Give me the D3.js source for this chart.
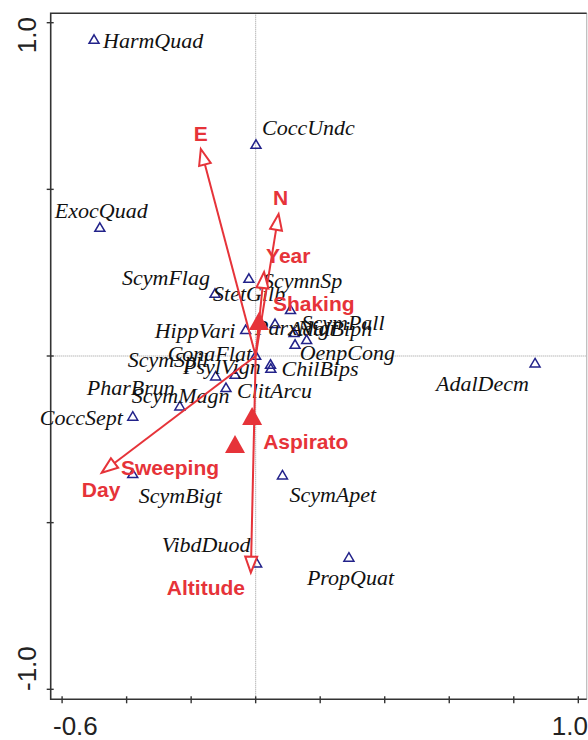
<!DOCTYPE html>
<html>
<head>
<meta charset="utf-8">
<script src="https://cdn.jsdelivr.net/npm/d3@7"></script>
<style>
   body { margin: 0; background: #fff; }
   .sp { font-family: "Liberation Serif", "Times New Roman", serif; font-style: italic; font-size: 22px; fill: #111; }
   .env { font-family: "Liberation Sans", Arial, sans-serif; font-weight: bold; font-size: 21px; fill: #e63339; }
   .tick { font-family: "Liberation Sans", Arial, sans-serif; font-size: 26px; fill: #222; }
</style>
</head>
<body>
<div id="viz"></div>
<script>

var width = 588;
var height = 740;

// Data //

var species = ["HarmQuad", "CoccUndc", "ExocQuad", "ScymFlag", "StetGilb", "ScymnSp", "ScymPall", "HippVari",
   "ParxNigr", "AdalBiph", "OenpCong", "ConaFlat", "ScymSpil", "PsylVign", "ChilBips", "PharBrun",
   "ScymMagn", "ClitArcu", "CoccSept", "ScymBigt", "ScymApet", "VibdDuod", "PropQuat", "AdalDecm"];
var speciesX = [-0.501, 0.001, -0.483, -0.126, 0.122, -0.021, 0.108, -0.031,
   0.060, 0.119, 0.158, 0.000, -0.124, -0.064, 0.046, 0.047,
   -0.235, -0.092, -0.381, -0.381, 0.083, 0.003, 0.289, 0.866];
var speciesY = [0.951, 0.636, 0.387, 0.189, 0.036, 0.234, 0.140, 0.080,
   0.098, 0.071, 0.050, 0.003, -0.059, -0.054, -0.024, -0.036,
   -0.149, -0.094, -0.180, -0.352, -0.356, -0.620, -0.603, -0.020];

var arrows = ["E", "N", "Year", "Day", "Altitude"];
var arrowX = [-0.170, 0.071, 0.026, -0.477, -0.015];
var arrowY = [0.621, 0.426, 0.252, -0.350, -0.650];

var centroids = ["Shaking", "Aspirato", "Sweeping"];
var centroidX = [0.010, -0.011, -0.064];
var centroidY = [0.105, -0.180, -0.264];

var xTicks = [-0.6, -0.4, -0.2, 0, 0.2, 0.4, 0.6, 0.8, 1.0];
var yTicks = [-1.0, -0.5, 0, 0.5, 1.0];
var xTickLabels = ["-0.6", "1.0"];
var yTickLabels = ["-1.0", "1.0"];

// Label placement (pixels from the point) //

var spShift = {
   HarmQuad: [9, 1], CoccUndc: [6, -17], ExocQuad: [-45, -17], ScymFlag: [-93, -16],
   StetGilb: [-82, -51], ScymnSp: [14, 2], ScymPall: [11, 13], HippVari: [-91, 1],
   ParxNigr: [-20, 4], AdalBiph: [-5, -4], OenpCong: [-7, 13], ConaFlat: [-88, -2],
   ScymSpil: [-88, -16], PsylVign: [-52, -7], ChilBips: [11, 5], PharBrun: [-184, 20],
   ScymMagn: [-48, -10], ClitArcu: [11, 3], CoccSept: [-93, 2], ScymBigt: [6, 22],
   ScymApet: [7, 20], VibdDuod: [-95, -18], PropQuat: [-42, 21], AdalDecm: [-99, 21]
};
var envShift = {
   E: [0, -16, "middle"], N: [2, -17, "middle"], Year: [2, -17, "start"],
   Day: [-20, 17, "start"], Altitude: [-84, 15, "start"],
   Shaking: [14, -18, "start"], Aspirato: [11, 26, "start"], Sweeping: [-114, 24, "start"]
};

var red = "#e63339";
var navy = "#22228a";

var svg = d3.select("#viz").append("svg")
   .attr("width", width)
   .attr("height", height);

var x = d3.scaleLinear().domain([-0.6, 1.0]).range([62.1, 578.3]);
var y = d3.scaleLinear().domain([-1.0, 1.0]).range([689.3, 22.7]);

var frameL = 50.7, frameR = 586.7, frameT = 13.3, frameB = 699.3;

// Zero lines //

svg.append("line")
   .attr("x1", x(0)).attr("x2", x(0))
   .attr("y1", frameT).attr("y2", frameB)
   .style("stroke", "#999").style("stroke-width", 1).style("stroke-dasharray", "1,1");
svg.append("line")
   .attr("x1", frameL).attr("x2", frameR)
   .attr("y1", y(0)).attr("y2", y(0))
   .style("stroke", "#999").style("stroke-width", 1).style("stroke-dasharray", "1,1");

// Frame and axes //

svg.append("line")
   .attr("x1", frameR).attr("x2", frameR).attr("y1", frameT).attr("y2", frameB)
   .style("stroke", "#bbb").style("stroke-width", 1.2);
svg.append("path")
   .attr("d", "M" + frameR + "," + frameT + "H" + frameL + "V" + frameB + "H" + frameR)
   .style("fill", "none").style("stroke", "#333").style("stroke-width", 1.6);

svg.selectAll(".xt").data(xTicks).enter().append("line")
   .attr("class", "xt")
   .attr("x1", function(d) { return x(d); }).attr("x2", function(d) { return x(d); })
   .attr("y1", frameB - 3).attr("y2", frameB + 4)
   .style("stroke", "#333").style("stroke-width", 1.4);
svg.selectAll(".yt").data(yTicks).enter().append("line")
   .attr("class", "yt")
   .attr("y1", function(d) { return y(d); }).attr("y2", function(d) { return y(d); })
   .attr("x1", frameL - 4).attr("x2", frameL + 3)
   .style("stroke", "#333").style("stroke-width", 1.4);

svg.append("text").attr("class", "tick")
   .attr("x", 53).attr("y", 735).attr("text-anchor", "start")
   .text(xTickLabels[0]);
svg.append("text").attr("class", "tick")
   .attr("x", 588).attr("y", 735).attr("text-anchor", "end")
   .text(xTickLabels[1]);
svg.append("text").attr("class", "tick")
   .attr("transform", "translate(36,691) rotate(-90)").attr("text-anchor", "start")
   .text(yTickLabels[0]);
svg.append("text").attr("class", "tick")
   .attr("transform", "translate(36,17) rotate(-90)").attr("text-anchor", "end")
   .text(yTickLabels[1]);

// Species //

function tri(cx, cy, hw, h) {
   return "M" + cx + "," + (cy - h / 2) + "L" + (cx + hw) + "," + (cy + h / 2) + "L" + (cx - hw) + "," + (cy + h / 2) + "Z";
}

species.forEach(function(name, i) {
   var px = x(speciesX[i]), py = y(speciesY[i]);
   svg.append("path")
      .attr("d", tri(px, py, 5, 8.5))
      .style("fill", "none").style("stroke", navy).style("stroke-width", 1.5);
   svg.append("text")
      .attr("class", "sp")
      .attr("x", px + spShift[name][0])
      .attr("y", py + spShift[name][1])
      .attr("dominant-baseline", "central")
      .text(name);
});

// Environmental arrows //

var ox = x(0), oy = y(0);

arrows.forEach(function(name, i) {
   var tx = x(arrowX[i]), ty = y(arrowY[i]);
   var dx = tx - ox, dy = ty - oy;
   var len = Math.sqrt(dx * dx + dy * dy);
   var ux = dx / len, uy = dy / len;
   var bx = tx - 16 * ux, by = ty - 16 * uy;
   svg.append("line")
      .attr("x1", ox).attr("y1", oy).attr("x2", bx).attr("y2", by)
      .style("stroke", red).style("stroke-width", 2);
   svg.append("path")
      .attr("d", "M" + tx + "," + ty + "L" + (bx - 6 * uy) + "," + (by + 6 * ux) + "L" + (bx + 6 * uy) + "," + (by - 6 * ux) + "Z")
      .style("fill", "#fff").style("stroke", red).style("stroke-width", 2);
   svg.append("text")
      .attr("class", "env")
      .attr("x", tx + envShift[name][0])
      .attr("y", ty + envShift[name][1])
      .attr("text-anchor", envShift[name][2])
      .attr("dominant-baseline", "central")
      .text(name);
});

centroids.forEach(function(name, i) {
   var cx = x(centroidX[i]), cy = y(centroidY[i]);
   svg.append("path")
      .attr("d", tri(cx, cy, 10, 18))
      .style("fill", red);
   svg.append("text")
      .attr("class", "env")
      .attr("x", cx + envShift[name][0])
      .attr("y", cy + envShift[name][1])
      .attr("text-anchor", envShift[name][2])
      .attr("dominant-baseline", "central")
      .text(name);
});

</script>
</body>
</html>
